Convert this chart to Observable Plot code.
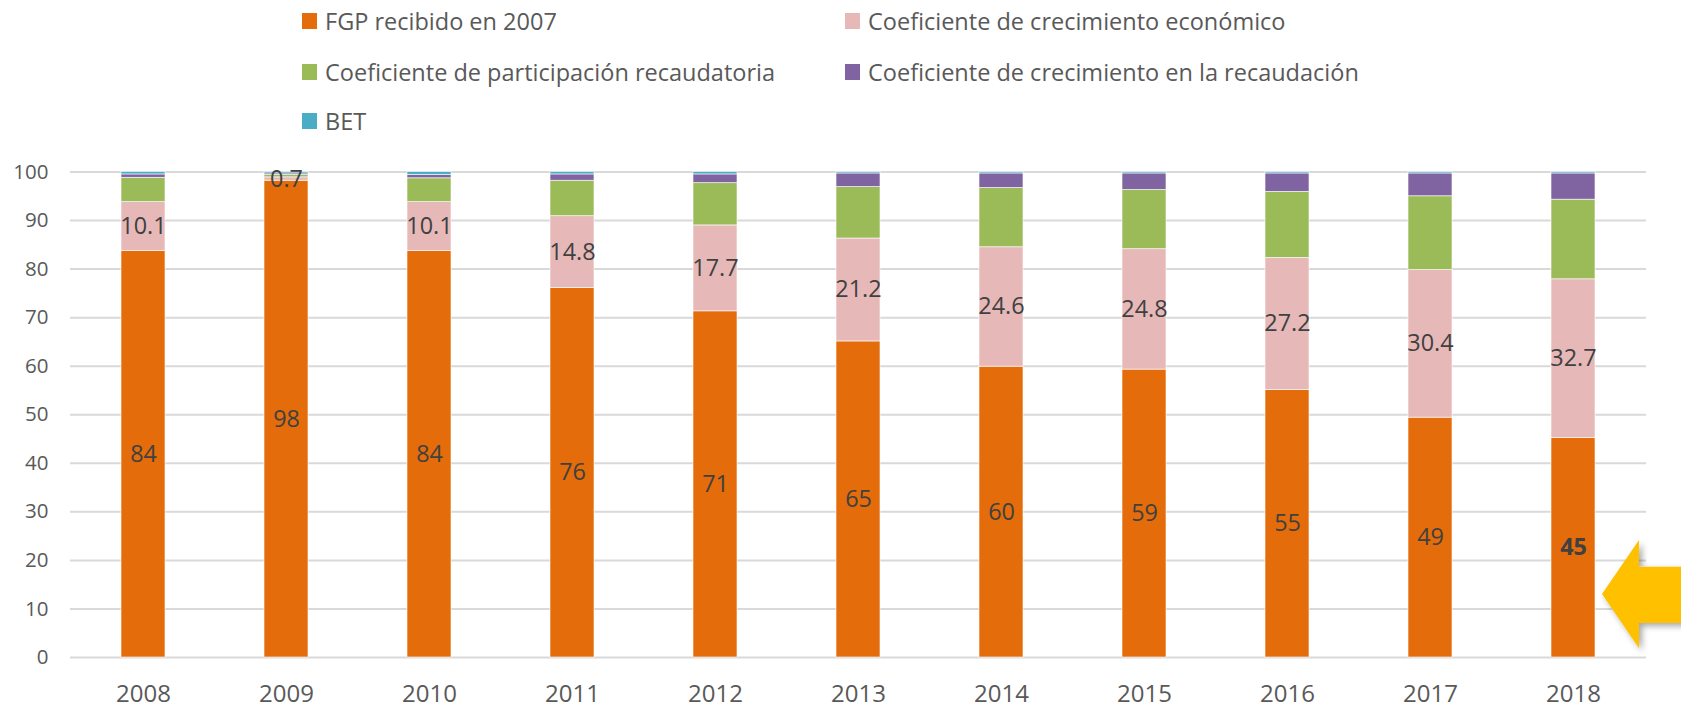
<!DOCTYPE html>
<html><head><meta charset="utf-8">
<script src="https://cdn.jsdelivr.net/npm/d3@7"></script>
<script src="https://cdn.jsdelivr.net/npm/@observablehq/plot@0.6"></script>
<style>
html,body{margin:0;padding:0;background:#fff;overflow:hidden;}
body{width:1681px;height:707px;position:relative;font-family:"Open Sans",sans-serif;}
#legend{position:absolute;left:0;top:0;width:1681px;height:140px;}
.item{position:absolute;display:flex;align-items:center;font-size:23.5px;color:#595959;white-space:nowrap;height:30px;}
.sw{width:15px;height:16px;margin-right:8px;flex:none;}
#chart{position:absolute;left:0;top:140px;}
</style></head><body>
<div id="legend"></div><div id="chart"></div>
<script>
const years = ["2008","2009","2010","2011","2012","2013","2014","2015","2016","2017","2018"];
const series = ["FGP recibido en 2007","Coeficiente de crecimiento económico","Coeficiente de participación recaudatoria","Coeficiente de crecimiento en la recaudación","BET"];
const colors = ["#E46C0A","#E6B9B8","#9BBB59","#8064A2","#4BACC6"];
const fgp    = [83.7, 98.2, 83.7, 76.1, 71.3, 65.1, 59.9, 59.3, 55.1, 49.4, 45.2];
const econ   = [10.1,  0.7, 10.1, 14.8, 17.7, 21.2, 24.6, 24.8, 27.2, 30.4, 32.7];
const part   = [ 5.0,  0.5,  4.9,  7.3,  8.7, 10.6, 12.2, 12.2, 13.6, 15.2, 16.4];
const recaud = [ 0.7,  0.3,  0.7,  1.3,  1.8,  2.8,  3.0,  3.4,  3.8,  4.7,  5.4];
const bet    = [ 0.5,  0.3,  0.6,  0.5,  0.5,  0.3,  0.3,  0.3,  0.3,  0.3,  0.3];
const yTicks = [0,10,20,30,40,50,60,70,80,90,100];
const highlightYear = "2018";

const seriesValues = [fgp, econ, part, recaud, bet];
const data = [];
years.forEach((yr, i) => seriesValues.forEach((vals, s) => data.push({year: yr, series: series[s], s, value: vals[i]})));

function labelOf(d) {
  if (d.s === 0) return String(Math.round(d.value));
  if (d.s === 1) return d.value.toFixed(1);
  return "";
}

// Legend
const legendPos = [[302,20.5],[845,20.5],[302,71.5],[845,71.5],[302,121]];
const legend = document.getElementById("legend");
series.forEach((name, i) => {
  const it = document.createElement("div");
  it.className = "item";
  it.style.left = legendPos[i][0] + "px";
  it.style.top = (legendPos[i][1] - 15) + "px";
  const sw = document.createElement("span");
  sw.className = "sw"; sw.style.background = colors[i];
  const tx = document.createElement("span");
  tx.textContent = name;
  it.appendChild(sw); it.appendChild(tx);
  legend.appendChild(it);
});

const font = '"Open Sans", sans-serif';
const plot = Plot.plot({
  width: 1681, height: 567,
  marginLeft: 70, marginRight: 35, marginTop: 31.5, marginBottom: 50,
  style: {fontFamily: font, fontSize: "22px", color: "#595959", background: "#fff", overflow: "visible"},
  x: {domain: years, paddingInner: 0.69, paddingOuter: 0.345},
  y: {domain: [0, 100]},
  color: {domain: series, range: colors},
  marks: [
    Plot.ruleY(yTicks, {stroke: "#D9D9D9", strokeWidth: 2}),
    Plot.axisY({ticks: yTicks, tickSize: 0, tickPadding: 22, fontSize: 20.5, label: null, fill: "#595959"}),
    Plot.axisX({tickSize: 0, tickPadding: 27, fontSize: 24, label: null, fill: "#595959"}),
    Plot.barY(data, {x: "year", y: "value", z: "series", fill: "series", order: series, stroke: "#fff", strokeWidth: 0.75, strokeOpacity: 0.8}),
    Plot.text(data, Plot.stackY({x: "year", y: "value", z: "series", order: series,
      text: d => (d.s === 0 && d.year === highlightYear) ? "" : labelOf(d),
      fill: "#404040", fontSize: 23.4})),
    Plot.text(data, Plot.stackY({x: "year", y: "value", z: "series", order: series,
      text: d => (d.s === 0 && d.year === highlightYear) ? labelOf(d) : "",
      fill: "#404040", fontSize: 23.4, fontWeight: "bold"}))
  ]
});
document.getElementById("chart").appendChild(plot);

// Yellow arrow annotation pointing at the highlighted bar
const sx = plot.scale("x"), sy = plot.scale("y");
const xr = sx.apply(highlightYear) + sx.bandwidth;
const arrowY = {tip: 13.0, headTop: 24.1, headBottom: 1.8, shaftTop: 18.6, shaftBottom: 7.0};
const svg = d3.select(plot);
const defs = svg.append("defs");
const f = defs.append("filter").attr("id", "arrowShadow").attr("x", "-50%").attr("y", "-50%").attr("width", "200%").attr("height", "200%");
f.append("feDropShadow").attr("dx", 3).attr("dy", 3).attr("stdDeviation", 3).attr("flood-color", "#000").attr("flood-opacity", 0.35);
const headX = xr + 44, tipX = xr + 7, endX = 1700;
const pts = [
  [tipX, sy.apply(arrowY.tip)],
  [headX, sy.apply(arrowY.headTop)],
  [headX, sy.apply(arrowY.shaftTop)],
  [endX, sy.apply(arrowY.shaftTop)],
  [endX, sy.apply(arrowY.shaftBottom)],
  [headX, sy.apply(arrowY.shaftBottom)],
  [headX, sy.apply(arrowY.headBottom)]
];
svg.append("polygon").attr("points", pts.map(p => p.join(",")).join(" "))
  .attr("fill", "#FFC000").attr("filter", "url(#arrowShadow)");
</script>
</body></html>
